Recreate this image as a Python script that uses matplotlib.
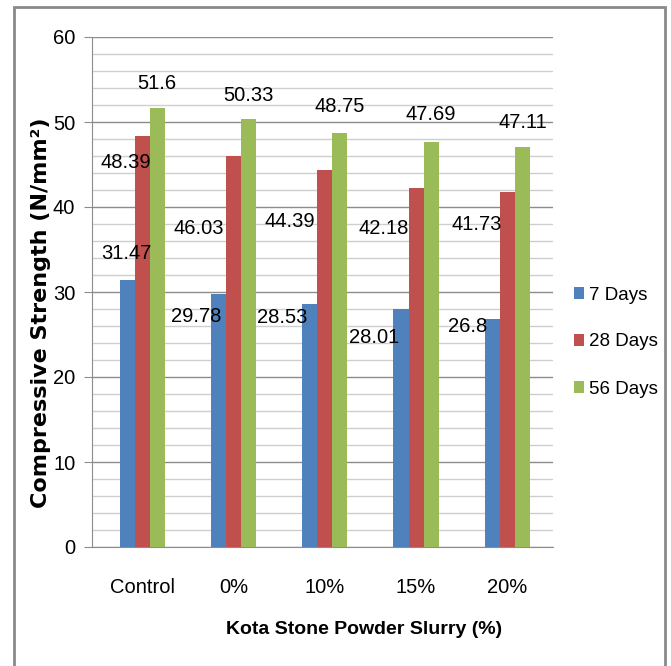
import matplotlib.pyplot as plt
from matplotlib.patches import Rectangle
from matplotlib.ticker import MultipleLocator
import numpy as np

# 数据
categories = ['Control', '0%', '10%', '15%', '20%']
days_7 = [31.47, 29.78, 28.53, 28.01, 26.8]
days_28 = [48.39, 46.03, 44.39, 42.18, 41.73]
days_56 = [51.6, 50.33, 48.75, 47.69, 47.11]
series_names = ['7 Days', '28 Days', '56 Days']

# 标签偏移 (像素)
offsets_7 = [(-1, 26), (-22, -23), (-28, -13), (-27, -29), (-25, -7)]
offsets_28 = [(-16, -27), (-35, -73), (-35, -52), (-32, -40), (-31, -32)]
offsets_56 = [(0, 25), (0, 24), (0, 26), (0, 27), (0, 24)]

colors = ['#4F81BD', '#C0504D', '#9BBB59']
font_narrow = ['Liberation Sans', 'DejaVu Sans']

fig = plt.figure(figsize=(6.71, 6.66), dpi=100)
ax = fig.add_axes([92 / 671, 1 - 547 / 666, 461 / 671, 510 / 666])

x = np.arange(len(categories))
w = 0.165
for i, (vals, offs) in enumerate(zip([days_7, days_28, days_56],
                                     [offsets_7, offsets_28, offsets_56])):
    xs = x + (i - 1) * w
    ax.bar(xs, vals, width=w, color=colors[i], label=series_names[i], zorder=3)
    for xi, v, (dx, dy) in zip(xs, vals, offs):
        ax.annotate(f'{v:g}', (xi, v), textcoords='offset pixels',
                    xytext=(dx, dy), ha='center', va='center',
                    fontsize=14.5, family=font_narrow, zorder=4)

# 坐标轴
ax.set_xlim(-0.55, 4.5)
ax.set_ylim(0, 60)
ax.yaxis.set_major_locator(MultipleLocator(10))
ax.yaxis.set_minor_locator(MultipleLocator(2))
ax.grid(which='major', axis='y', color='#8c8c8c', linewidth=1.0, zorder=0)
ax.grid(which='minor', axis='y', color='#cfcfcf', linewidth=1.0, zorder=0)
ax.set_xticks(x)
ax.set_xticklabels(categories, family=font_narrow, fontsize=14.5)
ax.tick_params(axis='x', length=0, pad=22)
ax.tick_params(axis='y', which='major', length=6, color='#8c8c8c', pad=6,
               labelsize=14.5)
ax.tick_params(axis='y', which='minor', length=0)
for lab in ax.get_yticklabels():
    lab.set_family(font_narrow)
for s in ['top', 'right']:
    ax.spines[s].set_visible(False)
for s in ['left', 'bottom']:
    ax.spines[s].set_color('#8c8c8c')

ax.set_ylabel('Compressive Strength (N/mm²)', fontsize=16,
              fontweight='bold')
ax.yaxis.set_label_coords(-0.089, 0.46)
ax.set_xlabel('Kota Stone Powder Slurry (%)', fontsize=14, fontweight='bold',
              family=font_narrow)
ax.xaxis.set_label_coords(0.59, -0.145)

ax.legend(loc='center left', bbox_to_anchor=(574 / 671, 1 - 342 / 666),
          bbox_transform=fig.transFigure, frameon=False,
          prop={'family': font_narrow, 'size': 13.5}, handlelength=0.55,
          handleheight=0.55, handletextpad=0.25, labelspacing=1.6,
          borderaxespad=0, borderpad=0)

# 外框
fig.patches.append(Rectangle((14 / 671, -0.01), 651 / 671, 1 - 7 / 666 + 0.01,
                             transform=fig.transFigure, fill=False,
                             edgecolor='#8a8a8a', linewidth=2))

fig.savefig('out.png', dpi=100)
